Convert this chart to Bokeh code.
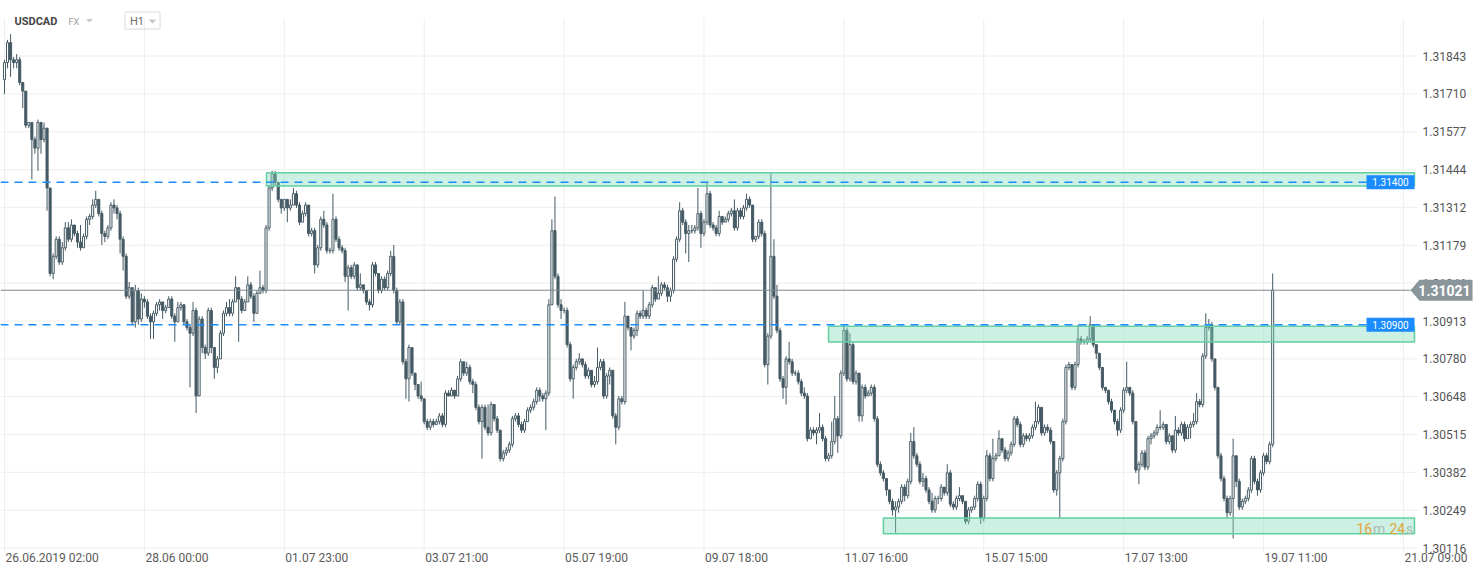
from bokeh.plotting import figure
from bokeh.models import Range1d, ColumnDataSource
from bokeh.core.properties import value
from bokeh.embed import file_html
from bokeh.resources import INLINE

# ---------------- data (USDCAD, H1 candles) ----------------
symbol = "USDCAD"
market = "FX"
interval = "H1"
first_open = 1.3176

closes = [
    1.3182, 1.3189, 1.3183, 1.3182, 1.3183, 1.3175, 1.3172, 1.3160, 1.3161, 1.3155,
    1.3152, 1.3161, 1.3155, 1.3159, 1.3138, 1.3108, 1.3114, 1.3120, 1.3112, 1.3117,
    1.3124, 1.3120, 1.3125, 1.3122, 1.3119, 1.3117, 1.3121, 1.3127, 1.3128, 1.3132,
    1.3134, 1.3129, 1.3122, 1.3121, 1.3124, 1.3132, 1.3131, 1.3129, 1.3120, 1.3114,
    1.3100, 1.3103, 1.3091, 1.3102, 1.3092, 1.3099, 1.3098, 1.3093, 1.3091, 1.3094,
    1.3097, 1.3098, 1.3095, 1.3096, 1.3099, 1.3093, 1.3091, 1.3096, 1.3097, 1.3091,
    1.3089, 1.3087, 1.3095, 1.3065, 1.3092, 1.3082, 1.3080, 1.3095, 1.3082, 1.3075,
    1.3078, 1.3087, 1.3094, 1.3096, 1.3094, 1.3098, 1.3103, 1.3099, 1.3095, 1.3098,
    1.3104, 1.3100, 1.3094, 1.3101, 1.3103, 1.3102, 1.3124, 1.3138, 1.3143, 1.3140,
    1.3134, 1.3131, 1.3134, 1.3131, 1.3132, 1.3136, 1.3132, 1.3126, 1.3129, 1.3132,
    1.3122, 1.3123, 1.3111, 1.3117, 1.3127, 1.3125, 1.3116, 1.3116, 1.3127, 1.3120,
    1.3117, 1.3116, 1.3107, 1.3110, 1.3107, 1.3111, 1.3103, 1.3104, 1.3102, 1.3098,
    1.3097, 1.3111, 1.3108, 1.3102, 1.3106, 1.3103, 1.3108, 1.3114, 1.3102, 1.3091,
    1.3098, 1.3077, 1.3071, 1.3082, 1.3073, 1.3069, 1.3065, 1.3064, 1.3056, 1.3054,
    1.3056, 1.3055, 1.3056, 1.3058, 1.3055, 1.3066, 1.3065, 1.3067, 1.3065, 1.3071,
    1.3077, 1.3073, 1.3075, 1.3070, 1.3069, 1.3061, 1.3056, 1.3061, 1.3054, 1.3052,
    1.3062, 1.3057, 1.3053, 1.3043, 1.3045, 1.3046, 1.3048, 1.3057, 1.3058, 1.3055,
    1.3053, 1.3056, 1.3060, 1.3061, 1.3063, 1.3067, 1.3065, 1.3064, 1.3066, 1.3097,
    1.3123, 1.3107, 1.3097, 1.3095, 1.3095, 1.3083, 1.3071, 1.3075, 1.3077, 1.3078,
    1.3076, 1.3072, 1.3074, 1.3069, 1.3070, 1.3075, 1.3077, 1.3065, 1.3072, 1.3074,
    1.3058, 1.3054, 1.3064, 1.3063, 1.3093, 1.3089, 1.3086, 1.3088, 1.3094, 1.3093,
    1.3095, 1.3093, 1.3097, 1.3103, 1.3099, 1.3101, 1.3104, 1.3103, 1.3100, 1.3102,
    1.3113, 1.3120, 1.3130, 1.3126, 1.3122, 1.3123, 1.3123, 1.3124, 1.3129, 1.3122,
    1.3126, 1.3136, 1.3125, 1.3124, 1.3122, 1.3128, 1.3126, 1.3127, 1.3129, 1.3130,
    1.3124, 1.3130, 1.3128, 1.3131, 1.3134, 1.3132, 1.3120, 1.3121, 1.3126, 1.3122,
    1.3076, 1.3086, 1.3114, 1.3100, 1.3088, 1.3071, 1.3068, 1.3078, 1.3077, 1.3073,
    1.3073, 1.3070, 1.3066, 1.3065, 1.3050, 1.3053, 1.3052, 1.3053, 1.3054, 1.3050,
    1.3043, 1.3044, 1.3049, 1.3057, 1.3051, 1.3073, 1.3088, 1.3071, 1.3083, 1.3070,
    1.3073, 1.3058, 1.3068, 1.3065, 1.3066, 1.3068, 1.3057, 1.3041, 1.3038, 1.3036,
    1.3032, 1.3028, 1.3025, 1.3026, 1.3028, 1.3033, 1.3030, 1.3035, 1.3049, 1.3044,
    1.3041, 1.3035, 1.3036, 1.3032, 1.3028, 1.3025, 1.3029, 1.3029, 1.3033, 1.3031,
    1.3038, 1.3027, 1.3026, 1.3029, 1.3030, 1.3028, 1.3021, 1.3025, 1.3026, 1.3029,
    1.3034, 1.3022, 1.3029, 1.3044, 1.3036, 1.3043, 1.3044, 1.3050, 1.3046, 1.3043,
    1.3045, 1.3048, 1.3057, 1.3055, 1.3048, 1.3051, 1.3050, 1.3051, 1.3054, 1.3056,
    1.3061, 1.3052, 1.3054, 1.3053, 1.3049, 1.3032, 1.3038, 1.3043, 1.3056, 1.3075,
    1.3076, 1.3068, 1.3076, 1.3085, 1.3084, 1.3084, 1.3085, 1.3090, 1.3083, 1.3080,
    1.3075, 1.3068, 1.3067, 1.3063, 1.3060, 1.3056, 1.3053, 1.3060, 1.3067, 1.3068,
    1.3066, 1.3056, 1.3039, 1.3041, 1.3045, 1.3040, 1.3050, 1.3051, 1.3052, 1.3054,
    1.3054, 1.3055, 1.3049, 1.3051, 1.3046, 1.3053, 1.3052, 1.3055, 1.3050, 1.3054,
    1.3055, 1.3056, 1.3063, 1.3062, 1.3079, 1.3089, 1.3090, 1.3078, 1.3068, 1.3044,
    1.3036, 1.3029, 1.3024, 1.3029, 1.3044, 1.3035, 1.3026, 1.3028, 1.3029, 1.3032,
    1.3043, 1.3035, 1.3032, 1.3038, 1.3044, 1.3042, 1.3048, 1.31021,
]

highs = [
    1.3183, 1.3190, 1.3192, 1.3184, 1.3185, 1.3184, 1.3175, 1.3172, 1.3161, 1.3161,
    1.3156, 1.3162, 1.3161, 1.3161, 1.3157, 1.3138, 1.3115, 1.3121, 1.3121, 1.3119,
    1.3126, 1.3126, 1.3127, 1.3125, 1.3123, 1.3125, 1.3122, 1.3128, 1.3129, 1.3134,
    1.3137, 1.3134, 1.3130, 1.3123, 1.3125, 1.3133, 1.3134, 1.3132, 1.3130, 1.3121,
    1.3115, 1.3105, 1.3103, 1.3104, 1.3103, 1.3101, 1.3100, 1.3099, 1.3094, 1.3095,
    1.3098, 1.3099, 1.3097, 1.3097, 1.3100, 1.3100, 1.3094, 1.3098, 1.3098, 1.3097,
    1.3092, 1.3090, 1.3098, 1.3096, 1.3093, 1.3093, 1.3083, 1.3096, 1.3096, 1.3082,
    1.3079, 1.3088, 1.3095, 1.3098, 1.3099, 1.3099, 1.3107, 1.3103, 1.3100, 1.3099,
    1.3107, 1.3105, 1.3101, 1.3102, 1.3109, 1.3104, 1.3125, 1.3139, 1.3144, 1.3144,
    1.3140, 1.3134, 1.3134, 1.3134, 1.3134, 1.3138, 1.3137, 1.3133, 1.3130, 1.3133,
    1.3132, 1.3124, 1.3124, 1.3118, 1.3128, 1.3130, 1.3126, 1.3117, 1.3136, 1.3128,
    1.3121, 1.3118, 1.3117, 1.3111, 1.3111, 1.3112, 1.3111, 1.3108, 1.3104, 1.3102,
    1.3099, 1.3112, 1.3112, 1.3108, 1.3107, 1.3107, 1.3109, 1.3116, 1.3118, 1.3103,
    1.3099, 1.3099, 1.3078, 1.3083, 1.3082, 1.3073, 1.3069, 1.3070, 1.3064, 1.3057,
    1.3057, 1.3057, 1.3057, 1.3059, 1.3059, 1.3067, 1.3067, 1.3068, 1.3067, 1.3072,
    1.3078, 1.3077, 1.3077, 1.3076, 1.3071, 1.3070, 1.3062, 1.3062, 1.3062, 1.3062,
    1.3063, 1.3060, 1.3058, 1.3053, 1.3046, 1.3047, 1.3049, 1.3058, 1.3059, 1.3059,
    1.3056, 1.3057, 1.3061, 1.3062, 1.3064, 1.3068, 1.3068, 1.3066, 1.3067, 1.3099,
    1.3127, 1.3135, 1.3108, 1.3099, 1.3096, 1.3096, 1.3084, 1.3076, 1.3078, 1.3080,
    1.3078, 1.3077, 1.3075, 1.3074, 1.3072, 1.3082, 1.3078, 1.3078, 1.3073, 1.3075,
    1.3074, 1.3059, 1.3065, 1.3065, 1.3098, 1.3093, 1.3089, 1.3089, 1.3095, 1.3095,
    1.3102, 1.3096, 1.3098, 1.3104, 1.3103, 1.3107, 1.3105, 1.3105, 1.3104, 1.3103,
    1.3114, 1.3121, 1.3133, 1.3131, 1.3127, 1.3125, 1.3125, 1.3125, 1.3138, 1.3130,
    1.3127, 1.3140, 1.3137, 1.3126, 1.3125, 1.3130, 1.3128, 1.3128, 1.3130, 1.3131,
    1.3134, 1.3131, 1.3131, 1.3132, 1.3136, 1.3135, 1.3132, 1.3121, 1.3127, 1.3127,
    1.3123, 1.3087, 1.3143, 1.3120, 1.3104, 1.3089, 1.3072, 1.3079, 1.3084, 1.3078,
    1.3074, 1.3074, 1.3071, 1.3068, 1.3066, 1.3054, 1.3054, 1.3054, 1.3059, 1.3055,
    1.3051, 1.3045, 1.3056, 1.3065, 1.3058, 1.3074, 1.3090, 1.3089, 1.3087, 1.3084,
    1.3074, 1.3073, 1.3069, 1.3069, 1.3067, 1.3069, 1.3069, 1.3058, 1.3042, 1.3039,
    1.3036, 1.3032, 1.3029, 1.3028, 1.3029, 1.3034, 1.3034, 1.3036, 1.3052, 1.3054,
    1.3045, 1.3042, 1.3038, 1.3037, 1.3033, 1.3031, 1.3030, 1.3030, 1.3034, 1.3033,
    1.3041, 1.3039, 1.3028, 1.3030, 1.3033, 1.3030, 1.3028, 1.3026, 1.3026, 1.3030,
    1.3035, 1.3035, 1.3030, 1.3046, 1.3045, 1.3050, 1.3045, 1.3053, 1.3050, 1.3047,
    1.3046, 1.3049, 1.3058, 1.3058, 1.3056, 1.3052, 1.3052, 1.3052, 1.3055, 1.3063,
    1.3062, 1.3061, 1.3055, 1.3055, 1.3054, 1.3049, 1.3039, 1.3044, 1.3057, 1.3076,
    1.3077, 1.3076, 1.3077, 1.3090, 1.3086, 1.3085, 1.3086, 1.3093, 1.3090, 1.3083,
    1.3080, 1.3075, 1.3068, 1.3067, 1.3064, 1.3060, 1.3057, 1.3061, 1.3068, 1.3077,
    1.3068, 1.3067, 1.3056, 1.3042, 1.3046, 1.3046, 1.3051, 1.3052, 1.3053, 1.3055,
    1.3060, 1.3056, 1.3055, 1.3052, 1.3051, 1.3058, 1.3054, 1.3056, 1.3056, 1.3055,
    1.3056, 1.3059, 1.3066, 1.3064, 1.3080, 1.3094, 1.3092, 1.3091, 1.3078, 1.3068,
    1.3045, 1.3037, 1.3030, 1.3030, 1.3050, 1.3044, 1.3036, 1.3029, 1.3030, 1.3033,
    1.3044, 1.3044, 1.3036, 1.3039, 1.3045, 1.3045, 1.3049, 1.3108,
]

lows = [
    1.3171, 1.3180, 1.3177, 1.3180, 1.3180, 1.3174, 1.3166, 1.3159, 1.3159, 1.3141,
    1.3150, 1.3144, 1.3150, 1.3154, 1.3130, 1.3107, 1.3106, 1.3113, 1.3111, 1.3111,
    1.3116, 1.3119, 1.3119, 1.3121, 1.3117, 1.3116, 1.3117, 1.3120, 1.3125, 1.3127,
    1.3131, 1.3128, 1.3118, 1.3119, 1.3120, 1.3123, 1.3129, 1.3127, 1.3115, 1.3109,
    1.3099, 1.3099, 1.3090, 1.3089, 1.3090, 1.3091, 1.3096, 1.3092, 1.3085, 1.3085,
    1.3093, 1.3095, 1.3092, 1.3094, 1.3096, 1.3092, 1.3084, 1.3091, 1.3095, 1.3090,
    1.3088, 1.3068, 1.3086, 1.3059, 1.3065, 1.3080, 1.3078, 1.3079, 1.3080, 1.3071,
    1.3073, 1.3078, 1.3086, 1.3093, 1.3093, 1.3093, 1.3098, 1.3084, 1.3094, 1.3095,
    1.3098, 1.3099, 1.3091, 1.3094, 1.3101, 1.3101, 1.3101, 1.3123, 1.3137, 1.3139,
    1.3133, 1.3129, 1.3130, 1.3126, 1.3130, 1.3132, 1.3131, 1.3125, 1.3126, 1.3128,
    1.3121, 1.3121, 1.3108, 1.3110, 1.3116, 1.3124, 1.3115, 1.3115, 1.3115, 1.3119,
    1.3116, 1.3115, 1.3105, 1.3095, 1.3106, 1.3106, 1.3102, 1.3102, 1.3101, 1.3097,
    1.3095, 1.3096, 1.3107, 1.3101, 1.3101, 1.3102, 1.3102, 1.3107, 1.3101, 1.3090,
    1.3090, 1.3076, 1.3064, 1.3063, 1.3072, 1.3067, 1.3064, 1.3063, 1.3055, 1.3053,
    1.3053, 1.3054, 1.3055, 1.3055, 1.3054, 1.3054, 1.3065, 1.3065, 1.3064, 1.3065,
    1.3070, 1.3072, 1.3072, 1.3069, 1.3066, 1.3060, 1.3055, 1.3043, 1.3053, 1.3051,
    1.3051, 1.3056, 1.3052, 1.3042, 1.3042, 1.3044, 1.3045, 1.3047, 1.3056, 1.3054,
    1.3052, 1.3052, 1.3056, 1.3059, 1.3060, 1.3062, 1.3063, 1.3063, 1.3053, 1.3065,
    1.3097, 1.3106, 1.3096, 1.3092, 1.3094, 1.3082, 1.3070, 1.3064, 1.3074, 1.3076,
    1.3075, 1.3071, 1.3071, 1.3068, 1.3068, 1.3069, 1.3074, 1.3064, 1.3064, 1.3069,
    1.3057, 1.3048, 1.3053, 1.3062, 1.3062, 1.3088, 1.3081, 1.3085, 1.3086, 1.3092,
    1.3092, 1.3092, 1.3092, 1.3096, 1.3098, 1.3099, 1.3100, 1.3102, 1.3098, 1.3098,
    1.3101, 1.3112, 1.3119, 1.3125, 1.3115, 1.3112, 1.3122, 1.3122, 1.3123, 1.3117,
    1.3121, 1.3125, 1.3124, 1.3123, 1.3121, 1.3121, 1.3125, 1.3126, 1.3126, 1.3128,
    1.3123, 1.3123, 1.3127, 1.3127, 1.3130, 1.3131, 1.3119, 1.3119, 1.3120, 1.3121,
    1.3075, 1.3069, 1.3085, 1.3099, 1.3087, 1.3070, 1.3064, 1.3062, 1.3076, 1.3072,
    1.3072, 1.3069, 1.3065, 1.3064, 1.3049, 1.3050, 1.3051, 1.3048, 1.3052, 1.3049,
    1.3042, 1.3042, 1.3043, 1.3048, 1.3045, 1.3050, 1.3072, 1.3070, 1.3070, 1.3069,
    1.3069, 1.3056, 1.3056, 1.3064, 1.3065, 1.3065, 1.3056, 1.3040, 1.3037, 1.3035,
    1.3030, 1.3027, 1.3023, 1.3017, 1.3024, 1.3027, 1.3028, 1.3029, 1.3034, 1.3043,
    1.3040, 1.3034, 1.3033, 1.3031, 1.3027, 1.3024, 1.3024, 1.3027, 1.3028, 1.3030,
    1.3030, 1.3026, 1.3025, 1.3025, 1.3028, 1.3027, 1.3020, 1.3020, 1.3024, 1.3025,
    1.3028, 1.3020, 1.3021, 1.3028, 1.3035, 1.3035, 1.3042, 1.3044, 1.3045, 1.3042,
    1.3042, 1.3044, 1.3047, 1.3054, 1.3047, 1.3047, 1.3049, 1.3049, 1.3050, 1.3053,
    1.3055, 1.3051, 1.3051, 1.3052, 1.3048, 1.3031, 1.3030, 1.3022, 1.3042, 1.3055,
    1.3074, 1.3067, 1.3067, 1.3075, 1.3083, 1.3083, 1.3083, 1.3084, 1.3082, 1.3078,
    1.3074, 1.3067, 1.3066, 1.3062, 1.3059, 1.3055, 1.3051, 1.3052, 1.3059, 1.3066,
    1.3065, 1.3055, 1.3038, 1.3034, 1.3040, 1.3039, 1.3039, 1.3048, 1.3050, 1.3051,
    1.3053, 1.3053, 1.3048, 1.3048, 1.3045, 1.3045, 1.3051, 1.3051, 1.3049, 1.3050,
    1.3050, 1.3054, 1.3055, 1.3061, 1.3061, 1.3078, 1.3088, 1.3077, 1.3067, 1.3043,
    1.3035, 1.3028, 1.3022, 1.3023, 1.3015, 1.3033, 1.3025, 1.3025, 1.3027, 1.3028,
    1.3031, 1.3034, 1.3030, 1.3031, 1.3037, 1.3041, 1.3041, 1.3047,
]

# time axis: candle index of each labelled gridline, and its label
x_tick_index = [0, 46, 92, 138, 184, 230, 276, 322, 368, 414, 460]
x_tick_labels = ["26.06.2019 02:00", "28.06 00:00", "01.07 23:00", "03.07 21:00",
                 "05.07 19:00", "09.07 18:00", "11.07 16:00", "15.07 15:00",
                 "17.07 13:00", "19.07 11:00", "21.07 09:00"]

# price axis
y_ticks = [1.31843, 1.31710, 1.31577, 1.31444, 1.31312, 1.31179, 1.31046,
           1.30913, 1.30780, 1.30648, 1.30515, 1.30382, 1.30249, 1.30116]
y_tick_labels = ["1.31843", "1.31710", "1.31577", "1.31444", "1.31312", "1.31179", "1.31046",
                 "1.30913", "1.30780", "1.30648", "1.30515", "1.30382", "1.30249", "1.30116"]

# horizontal levels (dashed) and their labels
levels = [1.31400, 1.30900]
level_labels = ["1.31400", "1.30900"]

# highlighted zones: start (candle index), top and bottom price
zone_start = [86.15, 270.95, 289.0]
zone_top = [1.31433, 1.30895, 1.30222]
zone_bottom = [1.31387, 1.30839, 1.30166]

# countdown to candle close
countdown_parts = ["16", "m", "24", "s"]

# ---------------- layout helpers (pixel -> data) ----------------
W, H = 1482, 574
PX0, DX = 4.0, 3.0412          # x pixel of candle 0, pixels per candle
PY0, DY = 1.32038, 0.0000351   # price at top edge, price per pixel


def xd(px):
    return (px - PX0) / DX


def yd(py):
    return PY0 - py * DY


CANDLE = "#455a64"
GRID = "#eeeeee"
BLUE = "#1a8cff"
FONT = value("Roboto")

p = figure(width=W, height=H,
           x_range=Range1d(xd(0), xd(W)), y_range=Range1d(yd(H), yd(0)),
           output_backend="svg", toolbar_location=None, min_border=0,
           x_axis_type=None, y_axis_type=None)
p.outline_line_color = None
p.background_fill_color = "white"
p.border_fill_color = "white"

# grid
ny = len(y_ticks)
p.segment(x0=[xd(0)] * ny, x1=[xd(1417)] * ny, y0=y_ticks, y1=y_ticks,
          line_color=GRID, line_width=1)
nx = len(x_tick_index)
p.segment(x0=x_tick_index, x1=x_tick_index, y0=[yd(551)] * nx, y1=[yd(18)] * nx,
          line_color=GRID, line_width=1)

# candles
n = len(closes)
opens = [first_open] + closes[:-1]
idx = list(range(n))
hi = [max(h, o, c) for h, o, c in zip(highs, opens, closes)]
lo = [min(l, o, c) for l, o, c in zip(lows, opens, closes)]
top = [max(o, c) for o, c in zip(opens, closes)]
bot = [min(o, c) for o, c in zip(opens, closes)]
fill = ["white" if c >= o else CANDLE for o, c in zip(opens, closes)]
src = ColumnDataSource(dict(x=idx, high=hi, low=lo, top=top, bottom=bot, fill=fill))
p.segment(x0="x", x1="x", y0="low", y1="high", source=src, line_color=CANDLE, line_width=1)
p.vbar(x="x", top="top", bottom="bottom", width=0.68, source=src,
       fill_color="fill", line_color=CANDLE, line_width=1)

# zones
nz = len(zone_start)
p.quad(left=zone_start, right=[xd(1414)] * nz, top=zone_top, bottom=zone_bottom,
       fill_color="#7fd9b8", fill_alpha=0.4, line_color="#62cfa0", line_width=1.5)

# dashed levels with labels
nl = len(levels)
p.segment(x0=[xd(0)] * nl, x1=[xd(1366)] * nl, y0=levels, y1=levels,
          line_color=BLUE, line_width=1.5, line_dash="8 6")
p.rect(x=[xd(1390)] * nl, y=levels, width=48, height=14,
       width_units="screen", height_units="screen", fill_color=BLUE, line_color=None)
p.text(x=[xd(1390)] * nl, y=levels, text=level_labels, text_align="center",
       text_baseline="middle", text_color="white", text_font_size="10px", text_font=FONT)

# y tick labels
p.text(x=[xd(1422)] * ny, y=y_ticks, text=y_tick_labels, text_align="left",
       text_baseline="middle", text_color="#555555", text_font_size="12px", text_font=FONT)

# x tick labels
p.text(x=x_tick_index, y=[yd(557)] * nx, text=x_tick_labels, x_offset=1,
       text_align="left", text_baseline="middle", text_color="#5a5a5a",
       text_font_size="12px", text_font=FONT)

# current price line and tag
last = closes[-1]
p.segment(x0=[xd(0)], x1=[xd(1410)], y0=[last], y1=[last], line_color="#7f8b90", line_width=1)
hh = 10.5 * DY
p.patch(x=[xd(1410), xd(1419), xd(1472), xd(1472), xd(1419)],
        y=[last, last + hh, last + hh, last - hh, last - hh],
        fill_color="#8a969a", line_color=None)
p.text(x=[xd(1444)], y=[last], text=[f"{last:.5f}"], text_align="center",
       text_baseline="middle", text_color="white", text_font_size="14px",
       text_font_style="bold", text_font=FONT)

# countdown in the lower zone
cd_x = [xd(1356), xd(1372.5), xd(1389), xd(1405.5)]
cd_col = ["#e3a63a", "#a9bdb6", "#e3a63a", "#a9bdb6"]
p.text(x=cd_x, y=[yd(528)] * 4, text=countdown_parts, text_align="left",
       text_baseline="middle", text_color=cd_col, text_font_size="14px", text_font=FONT)

# header
p.quad(left=[xd(124.5)], right=[xd(159.5)], top=[yd(11.5)], bottom=[yd(28.5)],
       fill_color=None, line_color="#dcdcdc", line_width=1)
p.text(x=[xd(14)], y=[yd(20.5)], text=[symbol], text_align="left", text_baseline="middle",
       text_color="#454545", text_font_size="11px", text_font_style="bold", text_font=FONT)
p.text(x=[xd(68)], y=[yd(21)], text=[market], text_align="left", text_baseline="middle",
       text_color="#9a9a9a", text_font_size="9px", text_font=FONT)
p.text(x=[xd(129.5)], y=[yd(20.5)], text=[interval], text_align="left", text_baseline="middle",
       text_color="#6a6a6a", text_font_size="11px", text_font=FONT)
p.patches(xs=[[xd(85.5), xd(92.5), xd(89)], [xd(148), xd(156), xd(152)]],
          ys=[[yd(18.5), yd(18.5), yd(22)], [yd(19), yd(19), yd(23)]],
          fill_color="#c8c8c8", line_color=None)

open("out.html", "w").write(file_html(p, INLINE))
